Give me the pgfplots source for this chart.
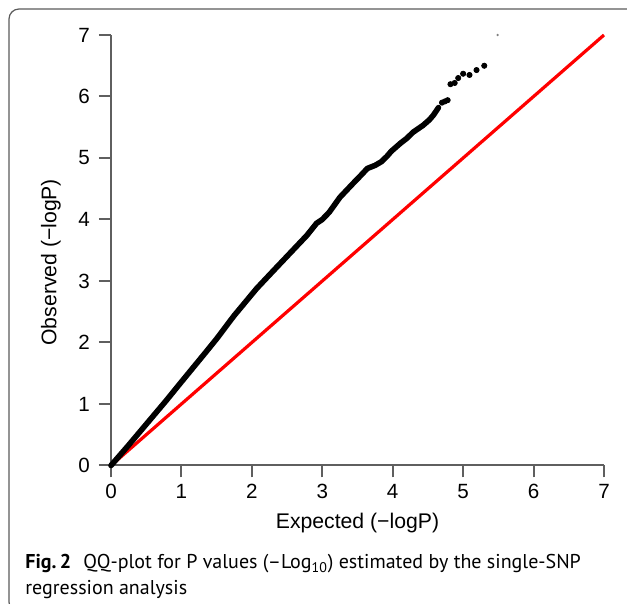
\documentclass[border=0pt]{standalone}
\usepackage{fontspec}
\setmainfont{Liberation Sans}
\newfontfamily\capfont{PT Sans}
\usepackage{pgfplots}
\pgfplotsset{compat=1.18}
\definecolor{axgray}{RGB}{95,95,95}
\definecolor{boxgray}{RGB}{90,90,90}

\begin{document}
\begin{tikzpicture}
\useasboundingbox (0,0) rectangle (313.5pt,302pt);
\draw[boxgray, line width=0.6pt, rounded corners=5pt] (4.5pt,-4pt) rectangle (322pt,297.5pt);
\begin{axis}[
    at={(55.5pt,69.25pt)}, anchor=south west,
    scale only axis, width=246.5pt, height=215.25pt,
    xmin=0, xmax=7, ymin=0, ymax=7,
    axis lines=left,
    axis line style={-, axgray, line width=1pt},
    tick align=outside, major tick length=6pt,
    tick style={axgray, line width=1pt},
    xtick={0,...,7}, ytick={0,...,7},
    ticklabel style={font=\fontsize{10.3}{12}\selectfont},
    yticklabel style={xshift=-1pt},
    /pgf/number format/assume math mode=true,
    xlabel={Expected (−logP)}, ylabel={Observed (−logP)},
    label style={font=\fontsize{10.6}{12}\selectfont},
    xlabel style={at={(axis description cs:0.5,-0.1326)}, anchor=center},
    ylabel style={at={(axis description cs:-0.122,0.472)}, anchor=center},
    clip=false,
]
% expected line
\addplot[red, line width=1.6pt] coordinates {(0,0) (7,7)};
% observed quantiles (dense part)
\addplot[black, line width=2.8pt, line join=round, line cap=round] coordinates {
(0,0) (0.25,0.33) (0.5,0.67) (0.78,1.05) (1.0,1.36) (1.33,1.82) (1.5,2.06)
(1.75,2.44) (2.07,2.88) (2.3,3.16) (2.54,3.45) (2.78,3.74) (2.92,3.94)
(3.0,4.0) (3.1,4.12) (3.25,4.36) (3.44,4.59) (3.55,4.72) (3.64,4.83)
(3.75,4.88) (3.84,4.94) (3.92,5.03) (3.98,5.11) (4.11,5.24) (4.2,5.32)
(4.29,5.42) (4.43,5.53) (4.52,5.62) (4.58,5.70) (4.65,5.82)
};
% observed quantiles (sparse tail)
\addplot[only marks, mark=*, mark size=1.3pt, black] coordinates {
(4.70,5.90) (4.74,5.92) (4.78,5.94) (4.82,6.20) (4.88,6.22) (4.93,6.30)
(5.00,6.37) (5.09,6.35) (5.19,6.43) (5.30,6.50)
};
\addplot[only marks, mark=*, mark size=0.35pt, gray] coordinates {(5.49,7.0)};
\end{axis}
\node[anchor=base west, inner sep=0pt, font=\capfont\fontsize{10}{12}\selectfont] at (12.5pt,17.5pt)
  {\textbf{Fig.\,2}\hspace{0.6em}QQ-plot for P values (–Log\textsubscript{10}) estimated by the single-SNP};
\node[anchor=base west, inner sep=0pt, font=\capfont\fontsize{10}{12}\selectfont] at (12.5pt,4.5pt)
  {regression analysis};
\end{tikzpicture}
\end{document}
